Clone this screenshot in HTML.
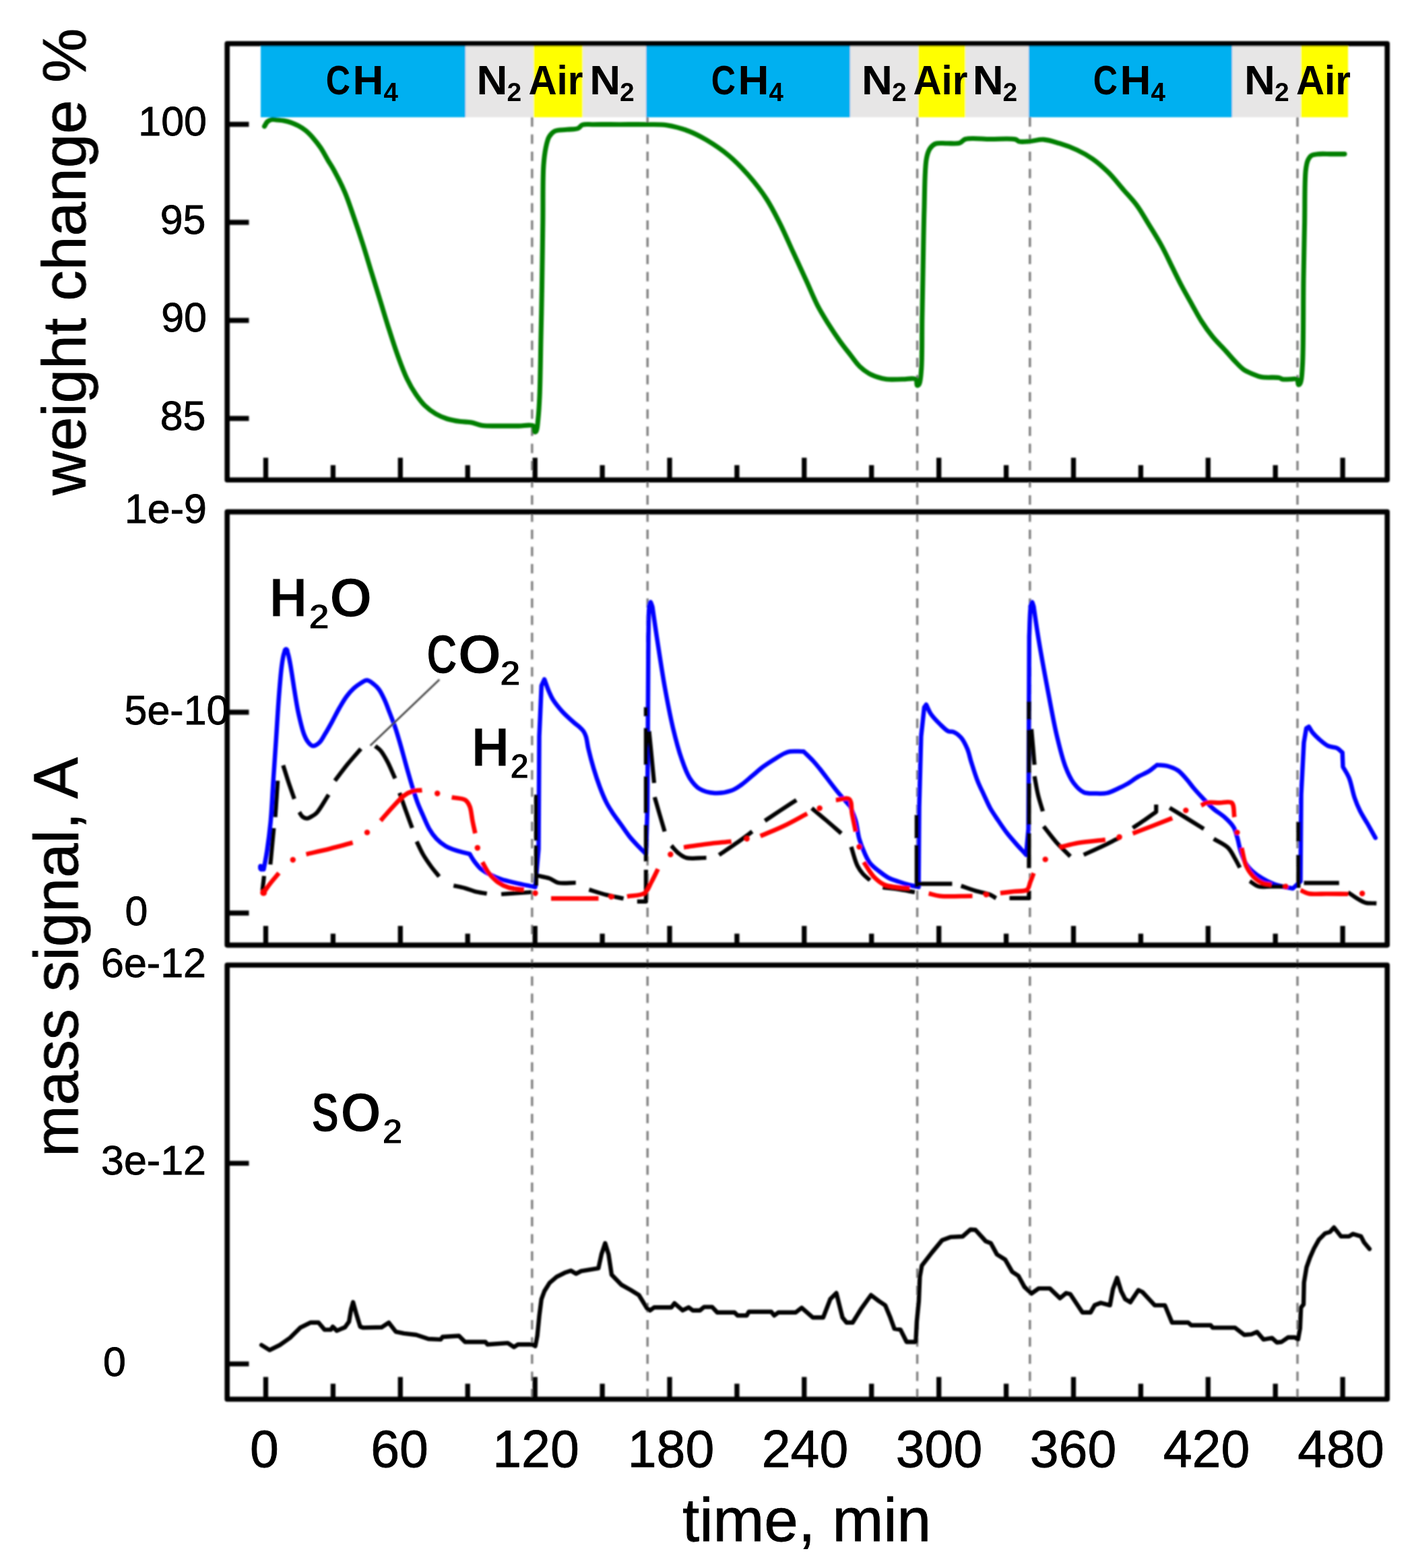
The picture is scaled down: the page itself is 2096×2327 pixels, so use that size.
<!DOCTYPE html>
<html lang="en"><head><meta charset="utf-8"><title>TGA-MS cycling: weight change and mass signal vs time</title>
<style>html,body{margin:0;padding:0;background:#fff}svg{display:block}text{font-family:"Liberation Sans",sans-serif;fill:#000}.b{font-weight:bold}</style>
</head><body>
<svg width="2096" height="2327" viewBox="0 0 2096 2327">
<rect width="2096" height="2327" fill="#fff"/>
<defs><filter id="soft" x="0" y="0" width="2096" height="2327" filterUnits="userSpaceOnUse"><feGaussianBlur stdDeviation="1.0"/></filter><filter id="softt" x="0" y="0" width="2096" height="2327" filterUnits="userSpaceOnUse"><feGaussianBlur stdDeviation="0.7"/></filter></defs>
<g filter="url(#soft)">
<g shape-rendering="crispEdges">
<rect x="387.2" y="68.3" width="303.6" height="106.0" fill="#00b0f0"/>
<rect x="690.8" y="68.3" width="101.2" height="106.0" fill="#e7e6e6"/>
<rect x="792.0" y="68.3" width="73.2" height="106.0" fill="#ffff00"/>
<rect x="865.2" y="68.3" width="93.6" height="106.0" fill="#e7e6e6"/>
<rect x="958.8" y="68.3" width="303.4" height="106.0" fill="#00b0f0"/>
<rect x="1262.2" y="68.3" width="100.8" height="106.0" fill="#e7e6e6"/>
<rect x="1363.0" y="68.3" width="69.7" height="106.0" fill="#ffff00"/>
<rect x="1432.7" y="68.3" width="94.1" height="106.0" fill="#e7e6e6"/>
<rect x="1526.8" y="68.3" width="302.5" height="106.0" fill="#00b0f0"/>
<rect x="1829.3" y="68.3" width="101.7" height="106.0" fill="#e7e6e6"/>
<rect x="1931.0" y="68.3" width="69.8" height="106.0" fill="#ffff00"/>
</g>
<g stroke="#808080" stroke-width="3.4" stroke-dasharray="14 11.5" fill="none">
<line x1="789.8" y1="174" x2="789.8" y2="2076"/>
<line x1="961.2" y1="174" x2="961.2" y2="2076"/>
<line x1="1361.6" y1="174" x2="1361.6" y2="2076"/>
<line x1="1528.8" y1="174" x2="1528.8" y2="2076"/>
<line x1="1926.0" y1="174" x2="1926.0" y2="2076"/>
</g>
<path d="M392.5,187.5 C394.0,185.2 395.1,182.2 397.0,180.5 C398.8,178.9 401.0,177.9 403.3,177.4 C405.9,176.9 409.1,177.7 412.0,178.0 C415.0,178.3 417.8,178.4 420.9,179.0 C424.4,179.6 428.3,180.5 431.9,181.8 C435.6,183.1 439.3,184.8 442.9,186.7 C446.6,188.7 450.3,191.0 453.8,193.8 C457.6,196.9 461.3,200.8 464.8,204.8 C468.6,209.1 472.3,213.9 475.8,219.1 C479.7,224.8 483.3,232.0 486.8,237.8 C489.8,242.9 492.2,246.2 495.4,252.0 C500.2,260.7 507.0,273.8 511.9,285.3 C516.9,297.0 520.7,309.1 525.0,321.5 C529.5,334.4 533.9,347.5 538.2,361.0 C542.7,375.0 547.0,389.7 551.4,404.0 C555.8,418.3 560.2,432.5 564.6,446.8 C569.0,461.1 573.3,475.7 577.8,489.7 C582.1,503.2 586.4,516.7 591.0,529.2 C595.2,540.8 599.4,552.3 604.2,562.2 C608.3,570.7 612.7,578.4 617.4,585.3 C621.6,591.4 625.5,597.0 630.5,601.8 C635.4,606.6 641.3,611.0 647.0,614.3 C652.3,617.4 657.6,619.7 663.5,621.5 C669.7,623.5 677.0,624.6 683.3,625.5 C689.0,626.3 694.3,626.0 699.8,627.0 C705.3,628.0 710.2,630.6 716.3,631.5 C723.4,632.5 731.6,632.0 740.0,632.1 C749.4,632.2 760.8,632.1 770.0,632.1 C777.8,632.1 788.1,629.3 791.5,632.1 C793.7,633.9 792.3,640.4 793.5,641.0 C794.2,641.4 795.3,640.9 796.0,640.0 C797.8,637.7 798.0,628.6 798.8,621.5 C799.8,612.1 800.4,602.2 801.0,588.6 C802.0,566.2 802.4,528.4 803.0,500.0 C803.6,473.6 804.1,450.4 804.5,423.7 C805.0,394.1 805.4,360.4 805.8,330.0 C806.2,301.2 805.5,265.8 806.9,245.7 C807.7,234.4 808.6,227.0 810.2,219.3 C811.5,213.1 812.6,207.2 815.2,202.9 C817.3,199.3 819.7,196.4 823.4,194.6 C828.0,192.3 835.6,193.0 841.5,192.3 C847.1,191.6 853.9,192.2 858.0,190.5 C860.9,189.3 861.7,186.3 864.6,185.2 C868.5,183.8 873.7,184.8 880.0,184.7 C890.2,184.5 906.7,184.7 920.0,184.7 C933.4,184.7 947.9,184.5 960.2,184.7 C970.7,184.9 979.5,184.2 989.5,185.7 C1000.2,187.3 1012.2,190.7 1022.4,194.6 C1031.9,198.2 1039.7,202.4 1048.8,207.8 C1059.4,214.1 1071.5,222.2 1081.8,230.9 C1092.3,239.7 1102.1,249.9 1111.4,260.5 C1120.8,271.3 1130.0,283.2 1137.8,295.2 C1145.4,306.9 1151.2,318.7 1157.6,331.4 C1164.4,345.0 1170.8,360.0 1177.4,374.3 C1184.0,388.6 1190.8,403.4 1197.1,417.1 C1202.9,429.7 1207.8,442.2 1213.6,453.4 C1218.8,463.5 1224.5,472.4 1230.1,481.4 C1235.5,490.0 1241.0,498.2 1246.6,506.1 C1252.0,513.6 1257.9,520.9 1263.1,527.6 C1267.7,533.5 1271.6,539.4 1276.3,544.0 C1280.5,548.0 1284.9,551.4 1289.5,554.0 C1293.7,556.5 1298.2,558.1 1302.6,559.6 C1306.9,561.0 1310.7,562.2 1315.8,562.8 C1322.6,563.6 1332.4,562.8 1340.0,562.8 C1346.9,562.8 1356.3,560.2 1359.5,562.8 C1361.7,564.6 1360.2,571.5 1361.5,572.0 C1362.3,572.3 1363.7,571.3 1364.5,570.0 C1366.5,566.8 1366.9,558.2 1367.6,549.0 C1369.0,531.6 1368.4,499.1 1368.8,473.2 C1369.3,446.1 1369.8,417.3 1370.3,390.0 C1370.8,363.5 1371.1,337.5 1371.9,311.6 C1372.7,286.1 1372.4,251.2 1375.2,235.8 C1376.5,228.8 1377.6,224.9 1380.1,221.0 C1382.2,217.7 1384.8,214.9 1388.4,213.4 C1392.7,211.6 1399.2,212.9 1405.0,212.7 C1411.3,212.5 1419.6,213.8 1424.6,212.2 C1428.2,211.0 1428.9,207.7 1432.9,206.5 C1440.6,204.1 1457.6,206.4 1470.0,206.5 C1482.3,206.6 1499.8,205.1 1507.0,206.8 C1510.2,207.6 1510.8,209.5 1513.6,210.1 C1517.7,211.0 1524.0,209.9 1529.6,209.5 C1535.8,209.0 1542.5,206.7 1549.3,207.1 C1556.7,207.5 1564.5,210.3 1572.4,212.7 C1581.0,215.3 1590.4,218.7 1598.8,222.6 C1606.9,226.4 1614.4,230.5 1621.9,235.8 C1629.9,241.4 1637.6,248.2 1645.0,255.6 C1653.0,263.5 1660.6,273.5 1668.0,282.0 C1674.9,289.9 1681.8,296.9 1687.8,305.1 C1693.9,313.4 1698.6,322.1 1704.3,331.4 C1710.6,341.7 1718.0,353.3 1724.1,364.4 C1730.1,375.3 1735.4,387.0 1740.6,397.4 C1745.2,406.7 1749.0,414.7 1753.7,423.7 C1758.8,433.4 1765.0,444.1 1770.2,453.4 C1774.8,461.6 1778.5,468.9 1783.4,476.5 C1788.4,484.3 1793.9,492.2 1799.9,499.6 C1806.0,507.1 1813.8,514.5 1819.7,521.0 C1824.6,526.4 1828.4,531.1 1832.9,535.8 C1837.2,540.3 1841.4,545.1 1846.0,548.4 C1850.2,551.4 1854.7,553.1 1859.2,555.0 C1863.5,556.8 1867.2,558.6 1872.4,559.6 C1879.6,561.0 1893.6,559.4 1898.8,560.6 C1901.2,561.2 1901.7,562.4 1903.7,562.8 C1906.6,563.4 1911.3,562.8 1915.0,562.8 C1918.5,562.8 1923.1,561.2 1925.2,562.8 C1927.1,564.2 1926.4,570.7 1927.5,571.0 C1928.3,571.2 1929.7,569.7 1930.5,568.0 C1932.5,563.8 1932.7,554.2 1933.4,542.4 C1935.1,516.0 1934.4,452.1 1935.0,413.8 C1935.5,382.9 1936.0,357.4 1936.6,330.0 C1937.1,303.6 1936.4,268.0 1938.3,252.3 C1939.1,245.4 1939.8,241.3 1941.6,237.5 C1942.9,234.7 1944.2,232.4 1946.6,230.9 C1949.4,229.1 1953.9,229.0 1958.1,228.6 C1963.2,228.1 1969.1,228.6 1975.0,228.6 C1981.6,228.6 1989.0,228.6 1996.0,228.6" fill="none" stroke="#007f00" stroke-width="7.1" stroke-linejoin="round" stroke-linecap="round"/>
<path d="M386.5,1285.5 L391.5,1290.0 C393.1,1280.8 394.9,1272.6 396.4,1262.5 C398.3,1250.1 400.1,1236.2 401.6,1220.9 C403.4,1202.2 404.3,1179.4 405.7,1158.6 C407.1,1137.8 408.5,1117.0 409.9,1096.2 C411.3,1075.4 412.5,1053.1 414.0,1033.9 C415.3,1017.5 416.6,1000.0 418.2,988.2 C419.2,980.7 420.1,974.5 421.5,970.0 C422.4,967.2 423.6,963.5 424.6,963.5 C425.6,963.5 426.6,967.4 427.5,970.0 C428.7,973.7 429.5,978.1 430.6,984.0 C432.5,993.8 434.8,1010.7 436.9,1023.5 C438.9,1035.6 440.6,1047.4 443.1,1058.8 C445.5,1069.6 448.4,1082.3 451.4,1090.0 C453.3,1094.9 455.0,1098.5 457.5,1101.5 C459.5,1103.9 461.8,1106.8 464.4,1107.0 C467.3,1107.3 471.4,1104.4 474.2,1101.8 C477.4,1098.9 479.4,1094.3 482.2,1089.8 C485.6,1084.3 489.4,1077.5 492.9,1071.1 C496.5,1064.5 499.9,1057.4 503.6,1051.0 C507.1,1045.0 510.5,1038.8 514.3,1033.7 C517.7,1029.2 521.3,1025.1 525.0,1021.7 C528.4,1018.6 532.1,1015.8 535.7,1013.7 C538.8,1011.9 541.9,1009.4 545.0,1009.6 C548.2,1009.8 551.5,1012.8 554.4,1015.0 C557.3,1017.2 559.9,1019.7 562.4,1023.0 C565.4,1027.0 567.9,1032.3 570.4,1037.7 C573.3,1043.8 575.8,1050.9 578.4,1057.7 C581.1,1064.7 584.0,1071.9 586.5,1079.1 C588.9,1086.2 590.9,1093.1 593.1,1100.5 C595.4,1108.3 597.6,1116.5 599.8,1124.5 C602.0,1132.5 604.2,1140.7 606.5,1148.6 C608.7,1156.3 610.9,1164.0 613.2,1171.3 C615.4,1178.2 617.4,1184.9 619.9,1191.4 C622.3,1197.8 625.1,1203.7 627.9,1210.0 C630.8,1216.6 633.7,1224.1 637.2,1230.1 C640.4,1235.6 643.8,1240.5 647.9,1244.8 C651.9,1249.0 656.4,1252.6 661.3,1255.5 C666.2,1258.4 671.6,1260.3 677.3,1262.2 C683.5,1264.3 690.6,1265.7 697.3,1267.5 C699.5,1271.1 701.3,1274.6 704.0,1278.2 C707.0,1282.2 710.6,1286.9 714.7,1290.2 C718.7,1293.5 723.3,1295.8 728.1,1298.2 C733.1,1300.7 738.3,1303.0 744.1,1304.9 C750.6,1307.1 757.8,1308.5 765.5,1310.3 C774.4,1312.4 784.8,1314.4 794.5,1316.5 L799.5,1260.0 L800.5,1092.8 L803.8,1017.6 L808.1,1008.2 C810.5,1014.5 812.8,1021.6 815.2,1027.0 C817.1,1031.3 818.3,1034.3 820.8,1038.3 C824.1,1043.5 829.0,1049.7 834.0,1055.2 C839.5,1061.3 847.9,1068.7 852.8,1073.0 C855.8,1075.6 858.0,1076.9 860.3,1079.0 C862.4,1080.9 864.4,1082.7 866.0,1085.0 C867.6,1087.3 868.6,1089.6 869.7,1092.8 C871.3,1097.6 871.9,1104.7 873.5,1111.6 C875.5,1120.1 878.2,1130.4 881.0,1139.8 C883.8,1149.2 887.1,1159.2 890.4,1168.0 C893.4,1176.0 896.7,1184.0 900.0,1190.6 C902.7,1196.0 905.1,1199.7 908.3,1204.7 C912.1,1210.6 917.2,1217.2 921.6,1223.4 C926.1,1229.6 930.4,1236.4 935.0,1242.1 C939.3,1247.4 944.2,1252.3 948.4,1256.8 C952.1,1260.7 955.5,1263.9 959.0,1267.5 L961.0,1200.0 L962.5,944.0 C962.9,929.3 962.6,908.1 963.8,900.0 C964.3,896.8 964.9,893.5 965.6,893.5 C966.4,893.5 967.5,898.5 968.5,901.0 C970.6,915.4 972.3,927.9 974.8,944.3 C978.1,965.7 982.4,994.9 986.6,1018.5 C990.5,1040.1 994.5,1061.5 999.0,1080.4 C1002.9,1096.6 1006.8,1111.8 1011.4,1125.0 C1015.2,1136.0 1018.7,1146.7 1023.8,1154.7 C1028.0,1161.3 1032.5,1167.1 1038.6,1170.8 C1044.8,1174.6 1053.2,1176.5 1060.9,1177.0 C1068.9,1177.5 1078.6,1175.8 1085.6,1173.3 C1091.5,1171.2 1095.7,1168.0 1100.7,1164.5 C1106.1,1160.7 1111.4,1155.7 1116.7,1151.3 C1122.0,1146.9 1127.2,1142.0 1132.7,1137.9 C1138.0,1134.0 1143.4,1130.6 1148.8,1127.2 C1154.1,1123.9 1160.3,1119.9 1164.8,1117.9 C1167.8,1116.5 1169.5,1115.7 1172.8,1115.2 C1177.9,1114.4 1186.2,1115.2 1192.9,1115.2 C1197.8,1120.1 1203.4,1125.3 1207.6,1129.9 C1211.1,1133.7 1212.9,1136.0 1216.7,1140.6 C1223.3,1148.8 1235.1,1165.2 1243.4,1175.3 C1250.1,1183.4 1255.9,1189.6 1262.2,1196.7 C1264.9,1203.8 1268.0,1210.5 1270.2,1218.1 C1272.6,1226.4 1273.1,1236.5 1275.5,1244.8 C1277.7,1252.4 1280.6,1259.8 1283.5,1266.2 C1286.0,1271.7 1288.0,1276.5 1291.5,1280.9 C1295.1,1285.4 1300.3,1289.3 1304.9,1292.9 C1309.3,1296.4 1313.5,1299.7 1318.3,1302.3 C1323.2,1304.9 1328.9,1306.6 1334.3,1308.5 C1339.6,1310.4 1345.2,1312.1 1350.3,1313.5 C1354.9,1314.7 1359.2,1315.5 1363.6,1316.5 L1364.5,1198.0 L1367.3,1092.8 L1372.0,1049.6 L1374.9,1045.8 C1377.1,1050.2 1378.5,1054.7 1381.4,1059.0 C1384.8,1064.1 1390.0,1069.5 1394.6,1074.0 C1398.9,1078.2 1403.8,1083.5 1407.8,1085.3 C1410.5,1086.5 1412.7,1085.2 1415.3,1086.2 C1418.9,1087.6 1423.3,1091.0 1426.6,1094.7 C1430.4,1099.1 1433.5,1105.7 1436.0,1111.6 C1438.5,1117.6 1439.4,1123.5 1441.6,1130.4 C1444.3,1138.9 1447.6,1150.0 1451.0,1158.6 C1453.9,1166.1 1457.2,1172.5 1460.4,1179.3 C1463.6,1186.1 1466.4,1193.0 1470.0,1199.5 C1473.6,1205.9 1477.9,1211.9 1482.0,1218.0 C1486.1,1224.2 1490.3,1230.4 1494.8,1236.3 C1499.3,1242.1 1504.2,1247.6 1509.0,1253.0 C1513.7,1258.3 1518.5,1263.3 1523.2,1268.5 L1526.6,1230.0 L1527.8,944.3 C1528.5,929.5 1528.6,908.1 1530.0,900.0 C1530.5,896.8 1531.2,893.5 1531.9,893.5 C1532.7,893.5 1533.6,898.5 1534.5,901.0 C1536.9,917.1 1538.8,931.1 1541.8,949.2 C1545.7,972.9 1551.8,1005.6 1556.6,1030.9 C1560.8,1053.0 1564.5,1073.9 1569.0,1092.8 C1572.9,1108.9 1576.6,1124.8 1581.4,1137.3 C1585.1,1147.0 1588.8,1155.4 1593.8,1162.1 C1598.1,1167.8 1603.0,1173.2 1608.6,1175.7 C1613.8,1178.1 1620.2,1177.3 1626.0,1177.5 C1631.8,1177.7 1637.7,1178.1 1643.3,1176.9 C1649.1,1175.7 1654.9,1172.4 1660.1,1170.0 C1664.8,1167.8 1668.8,1166.0 1673.4,1163.3 C1678.6,1160.3 1684.0,1155.8 1689.5,1152.6 C1694.7,1149.6 1700.7,1147.6 1705.5,1144.6 C1709.9,1141.8 1713.5,1138.3 1717.5,1135.2 C1722.4,1135.7 1727.3,1135.4 1732.2,1136.6 C1737.5,1137.9 1743.5,1140.1 1748.3,1143.3 C1753.3,1146.7 1757.5,1152.0 1761.6,1156.6 C1765.5,1161.0 1768.5,1165.5 1772.3,1170.0 C1776.4,1174.9 1781.0,1179.8 1785.7,1184.7 C1790.7,1190.0 1796.2,1195.9 1801.7,1200.7 C1806.9,1205.2 1812.8,1208.2 1817.7,1212.7 C1822.6,1217.1 1827.9,1222.2 1831.1,1227.4 C1833.9,1232.0 1834.7,1236.7 1836.4,1242.1 C1838.4,1248.5 1839.5,1256.7 1841.8,1263.5 C1844.0,1270.0 1846.4,1276.9 1849.8,1282.2 C1852.8,1286.9 1856.5,1290.6 1860.5,1294.2 C1864.5,1297.8 1869.1,1300.8 1873.9,1303.6 C1878.9,1306.6 1884.5,1309.5 1889.9,1311.6 C1894.9,1313.6 1900.0,1314.8 1905.0,1316.0 C1909.8,1317.1 1914.5,1317.7 1919.2,1318.5 L1930.5,1307.9 L1931.5,1178.8 L1935.5,1102.0 L1939.1,1080.8 L1942.9,1078.4 C1944.8,1081.4 1946.2,1084.5 1948.6,1087.4 C1951.3,1090.7 1954.8,1094.1 1958.4,1097.2 C1962.3,1100.6 1966.9,1104.8 1971.5,1107.0 C1975.7,1109.0 1980.8,1108.4 1984.5,1110.2 C1987.8,1111.8 1990.0,1114.6 1992.7,1116.8 L1993.5,1138.0 C1996.5,1143.4 1999.9,1147.9 2002.5,1154.3 C2005.9,1162.5 2007.7,1175.0 2010.7,1183.7 C2013.2,1191.0 2015.6,1196.9 2018.8,1203.3 C2022.1,1210.0 2026.5,1216.4 2030.3,1223.0 C2034.1,1229.7 2037.9,1236.6 2041.7,1243.4" fill="none" stroke="#0000ff" stroke-width="6.5" stroke-linejoin="round" stroke-linecap="round"/>
<g fill="#0000ff">
<circle cx="388.5" cy="1288" r="5.5"/>
<circle cx="424.6" cy="965.5" r="5"/>
<circle cx="965.6" cy="900" r="5.5"/>
<circle cx="1531.9" cy="900" r="5.5"/>
</g>
<g fill="none" stroke="#000" stroke-width="6.2" stroke-linejoin="round" stroke-linecap="butt">
<path d="M389.5,1322.0 L392.0,1300.0"/>
<path d="M401.3,1283.0 L406.4,1229.0"/>
<path d="M408.6,1212.6 L412.2,1158.6"/>
<path d="M420.3,1135.7 C422.9,1143.8 425.3,1151.8 428.0,1160.0 C430.8,1168.4 433.9,1177.1 436.9,1185.6"/>
<path d="M444.2,1205.3 C445.8,1207.5 447.0,1210.4 449.0,1212.0 C450.9,1213.5 453.4,1214.7 455.6,1214.7 C457.8,1214.7 459.8,1213.2 462.0,1212.0 C464.6,1210.6 467.2,1209.4 470.1,1206.4 C475.3,1201.0 481.9,1188.4 487.8,1179.4"/>
<path d="M497.1,1158.6 C503.4,1150.4 509.5,1142.0 516.0,1134.0 C522.4,1126.2 529.1,1118.8 535.7,1111.2"/>
<path d="M557.0,1107.2 C559.7,1109.5 562.4,1111.0 565.0,1114.0 C568.5,1118.0 571.7,1123.9 575.0,1130.0 C578.9,1137.4 582.7,1146.9 586.5,1155.3"/>
<path d="M593.1,1176.7 C596.1,1185.1 598.9,1193.5 602.0,1202.0 C605.2,1210.8 608.5,1219.9 611.8,1228.8"/>
<path d="M618.5,1248.8 C621.7,1255.2 624.4,1261.8 628.0,1268.0 C631.6,1274.2 635.9,1280.4 640.0,1286.0 C643.9,1291.3 647.9,1295.9 651.9,1300.9"/>
<path d="M673.3,1314.3 C678.9,1315.5 684.6,1316.5 690.0,1318.0 C695.2,1319.4 699.7,1321.6 705.0,1323.0 C710.6,1324.5 716.8,1325.2 722.7,1326.3"/>
<path d="M744.1,1327.0 L789.0,1324.0"/>
<path d="M795.8,1179.3 L795.8,1247.5"/>
<path d="M795.8,1254.5 L795.8,1314.7"/>
<path d="M798.3,1299.6 C803.9,1300.9 810.0,1301.6 815.2,1303.4 C820.0,1305.1 823.1,1308.7 828.4,1310.0 C835.5,1311.7 845.9,1310.0 854.7,1310.0"/>
<path d="M874.4,1320.3 C882.9,1322.9 891.4,1325.8 900.0,1328.0 C908.5,1330.2 917.1,1331.7 925.6,1333.5"/>
<path d="M945.8,1337.8 L958.9,1337.8 L958.9,1290.8"/>
<path d="M958.9,1278.4 L958.9,1224.0"/>
<path d="M958.9,1206.6 L958.9,1152.2"/>
<path d="M958.9,1134.9 L958.9,1080.4"/>
<path d="M958.9,1063.0 L958.9,1049.5"/>
<path d="M963.5,1085.0 C964.3,1093.3 965.0,1100.2 966.0,1110.0 C967.4,1124.2 969.3,1144.7 971.0,1162.0"/>
<path d="M971.8,1183.0 C974.2,1191.3 976.6,1199.6 979.0,1208.0 C981.5,1216.6 984.1,1225.3 986.6,1234.0"/>
<path d="M996.5,1255.0 C1000.0,1258.7 1003.2,1263.0 1007.0,1266.0 C1010.6,1268.9 1013.7,1271.6 1018.8,1273.0 C1026.3,1275.0 1038.6,1273.0 1048.5,1273.0"/>
<path d="M1067.3,1268.8 C1075.5,1263.2 1083.8,1257.8 1092.0,1252.0 C1100.3,1246.2 1108.5,1240.1 1116.7,1234.1"/>
<path d="M1135.4,1218.1 C1142.9,1213.1 1150.3,1208.1 1158.0,1203.0 C1165.9,1197.8 1174.1,1192.5 1182.2,1187.3"/>
<path d="M1205.0,1199.4 C1212.0,1205.3 1218.9,1210.9 1226.0,1217.0 C1233.5,1223.4 1241.2,1230.2 1248.8,1236.8"/>
<path d="M1263.5,1256.8 C1266.6,1266.2 1269.2,1277.7 1272.8,1284.9 C1275.3,1290.0 1277.8,1293.4 1281.0,1297.0 C1284.1,1300.5 1288.0,1303.2 1291.5,1306.3"/>
<path d="M1310.3,1317.0 C1318.5,1318.0 1326.9,1318.8 1335.0,1320.0 C1342.8,1321.2 1350.3,1322.7 1358.0,1324.0"/>
<path d="M1360.8,1209.4 L1360.8,1244.0"/>
<path d="M1360.8,1254.0 L1360.8,1316.5"/>
<path d="M1363.0,1311.7 L1413.4,1311.7"/>
<path d="M1426.6,1314.7 C1433.7,1317.1 1440.8,1319.8 1448.0,1322.0 C1455.2,1324.2 1464.5,1325.5 1470.0,1327.8 C1473.7,1329.4 1475.7,1331.3 1478.6,1333.0"/>
<path d="M1498.5,1332.9 L1527.4,1332.9 L1527.4,1322.0"/>
<path d="M1527.4,1288.3 L1527.4,1236.3"/>
<path d="M1527.4,1224.0 L1527.4,1162.0"/>
<path d="M1527.4,1147.2 L1527.4,1082.9"/>
<path d="M1527.4,1068.0 L1527.4,1040.8"/>
<path d="M1531.0,1082.0 C1531.8,1091.3 1532.7,1100.9 1533.5,1110.0 C1534.2,1118.6 1534.9,1126.7 1535.6,1135.0"/>
<path d="M1535.6,1152.0 C1537.4,1161.3 1538.8,1171.1 1541.0,1180.0 C1543.0,1188.4 1545.7,1196.0 1548.0,1204.0"/>
<path d="M1549.2,1226.4 C1555.5,1234.3 1561.4,1242.5 1568.0,1250.0 C1574.6,1257.4 1581.9,1264.0 1588.8,1271.0"/>
<path d="M1608.6,1268.5 C1617.1,1264.7 1625.5,1261.0 1634.0,1257.0 C1642.8,1252.8 1651.7,1248.2 1660.6,1243.8"/>
<path d="M1681.5,1228.8 C1687.3,1224.9 1693.2,1221.0 1699.0,1217.0 C1704.8,1213.0 1710.5,1208.8 1716.2,1204.7 L1716.2,1194.0"/>
<path d="M1736.2,1198.8 C1744.5,1203.9 1752.6,1208.9 1761.0,1214.0 C1769.6,1219.3 1778.3,1224.7 1787.0,1230.1"/>
<path d="M1801.7,1244.8 C1808.8,1249.3 1817.9,1253.0 1823.1,1258.2 C1827.3,1262.4 1829.2,1267.2 1832.0,1272.0 C1835.0,1277.0 1837.7,1282.4 1840.5,1287.6"/>
<path d="M1855.2,1307.6 C1859.6,1310.3 1863.6,1314.2 1868.5,1315.6 C1873.8,1317.1 1880.0,1315.6 1886.0,1315.6 C1892.4,1315.6 1899.3,1315.6 1905.9,1315.6"/>
<path d="M1927.4,1219.7 L1927.4,1249.0"/>
<path d="M1927.4,1268.7 L1927.4,1317.7"/>
<path d="M1935.5,1310.3 L1987.8,1310.3"/>
<path d="M2000.9,1324.2 C2005.8,1327.5 2010.9,1331.3 2015.6,1334.0 C2019.6,1336.3 2022.7,1338.6 2027.0,1339.7 C2031.8,1341.0 2037.9,1340.3 2043.3,1340.6"/>
</g>
<g fill="none" stroke="#ff0000" stroke-width="6.6" stroke-linejoin="round" stroke-linecap="butt">
<path d="M391.2,1324.8 C394.8,1319.9 398.2,1314.8 402.0,1310.0 C405.8,1305.1 410.0,1300.5 414.0,1295.7"/>
<path d="M454.5,1267.7 C466.3,1265.0 478.4,1262.4 490.0,1259.5 C501.4,1256.7 512.4,1253.5 523.6,1250.5"/>
<path d="M565.0,1218.0 C571.2,1210.9 577.6,1203.2 583.7,1196.7 C589.2,1190.9 594.4,1184.6 599.8,1180.7 C604.2,1177.5 608.5,1175.3 613.1,1174.0 C617.4,1172.7 622.0,1173.1 626.5,1172.6"/>
<path d="M670.6,1183.3 C677.3,1184.6 686.2,1184.3 690.7,1187.3 C694.1,1189.5 695.6,1192.7 697.3,1196.7 C699.6,1202.2 700.0,1211.2 701.4,1218.1 C702.7,1224.6 704.1,1230.6 705.4,1236.8"/>
<path d="M716.0,1279.5 C719.1,1284.9 721.6,1290.7 725.4,1295.6 C729.2,1300.5 733.8,1305.4 738.8,1309.0 C743.6,1312.5 748.8,1315.1 754.8,1317.0 C761.6,1319.1 770.0,1319.2 777.6,1320.3"/>
<path d="M818.0,1333.4 L888.5,1333.4"/>
<path d="M930.9,1330.4 C939.6,1328.7 950.8,1329.6 956.9,1325.4 C962.1,1321.8 963.8,1314.8 967.0,1309.0 C970.4,1302.9 973.5,1296.1 976.7,1289.6"/>
<path d="M1015.0,1257.4 C1026.7,1255.8 1038.3,1253.9 1050.0,1252.5 C1061.8,1251.0 1073.7,1250.0 1085.6,1248.7"/>
<path d="M1128.7,1240.8 C1140.1,1235.9 1151.6,1231.5 1163.0,1226.0 C1174.8,1220.4 1186.5,1213.6 1198.2,1207.4"/>
<path d="M1240.8,1187.3 C1247.5,1186.9 1256.8,1182.9 1260.8,1186.0 C1265.0,1189.3 1263.3,1199.9 1264.8,1207.4 C1266.4,1215.8 1268.4,1225.2 1270.2,1234.1"/>
<path d="M1282.2,1279.5 C1287.1,1286.6 1291.4,1295.1 1296.9,1300.9 C1301.8,1306.0 1307.2,1310.4 1312.9,1313.0 C1318.3,1315.4 1324.0,1315.6 1330.0,1316.5 C1336.5,1317.4 1343.5,1317.7 1350.3,1318.3"/>
<path d="M1378.6,1326.0 C1384.1,1327.2 1388.0,1328.9 1395.0,1329.7 C1406.8,1331.0 1427.3,1329.7 1443.5,1329.7"/>
<path d="M1484.9,1325.4 C1491.6,1324.6 1498.4,1323.8 1505.0,1323.0 C1511.6,1322.2 1520.5,1323.5 1524.5,1320.5 C1527.7,1318.1 1527.8,1313.0 1529.4,1309.0 C1531.1,1304.7 1532.7,1300.1 1534.4,1295.7"/>
<path d="M1572.7,1257.4 C1581.8,1255.3 1589.9,1252.8 1600.0,1251.0 C1612.2,1248.9 1627.2,1247.8 1640.8,1246.2"/>
<path d="M1681.5,1236.8 C1691.0,1233.2 1700.4,1229.7 1710.0,1226.0 C1719.9,1222.2 1730.1,1218.1 1740.2,1214.1"/>
<path d="M1783.0,1195.4 C1785.7,1194.1 1787.7,1192.2 1791.0,1191.4 C1795.9,1190.2 1803.7,1191.4 1810.0,1191.4 C1816.2,1191.4 1824.6,1188.3 1828.4,1191.4 C1832.5,1194.8 1831.1,1205.6 1832.4,1212.7"/>
<path d="M1843.1,1258.2 C1845.3,1267.1 1846.5,1277.4 1849.8,1284.9 C1852.6,1291.2 1856.3,1296.6 1860.5,1300.9 C1864.4,1304.9 1869.2,1308.3 1873.9,1310.3 C1878.2,1312.1 1882.8,1312.1 1887.2,1313.0"/>
<path d="M1930.6,1321.0 C1934.4,1322.6 1937.2,1324.9 1942.0,1325.9 C1949.2,1327.5 1960.4,1326.4 1970.0,1326.5 C1980.0,1326.6 1990.6,1326.6 2000.9,1326.7"/>
</g>
<g fill="#ff0000">
<circle cx="434.8" cy="1276" r="4.2"/>
<circle cx="545" cy="1235.4" r="4.2"/>
<circle cx="649.2" cy="1177.5" r="4.2"/>
<circle cx="708.8" cy="1258.2" r="4.2"/>
<circle cx="794.5" cy="1325.5" r="4.2"/>
<circle cx="907.4" cy="1330.8" r="4.2"/>
<circle cx="995.3" cy="1268" r="4.2"/>
<circle cx="1108.7" cy="1244.8" r="4.2"/>
<circle cx="1216.7" cy="1199.4" r="4.2"/>
<circle cx="1275.5" cy="1256.8" r="4.2"/>
<circle cx="1463.9" cy="1327.6" r="4.2"/>
<circle cx="1551.7" cy="1275.4" r="4.2"/>
<circle cx="1661.6" cy="1242.3" r="4.2"/>
<circle cx="1760.3" cy="1202.6" r="4.2"/>
<circle cx="1836.4" cy="1235.4" r="4.2"/>
<circle cx="1908.6" cy="1315.6" r="4.2"/>
<circle cx="2022.1" cy="1326" r="4.2"/>
<circle cx="391.2" cy="1324.8" r="5"/>
</g>
<path d="M388.1,1996.1 L400.2,2003.6 L415.3,1996.1 L430.4,1985.5 L445.6,1970.4 L460.7,1962.8 L472.8,1962.8 L481.8,1973.4 L490.9,1973.4 L493.9,1968.9 L500.0,1974.9 L512.0,1969.8 L518.1,1961.3 L521.1,1943.2 L524.1,1932.6 L528.7,1949.2 L534.7,1968.9 L539.2,1970.4 L566.4,1969.8 L577.0,1962.8 L587.6,1976.4 L599.7,1978.9 L617.8,1981.0 L635.9,1987.0 L654.1,1987.9 L657.1,1984.0 L681.3,1982.5 L690.3,1991.5 L720.6,1991.5 L723.6,1995.2 L753.8,1993.1 L762.9,1999.1 L768.9,1995.2 L790.1,1995.2 L794.6,1997.6 L797.6,1982.5 L800.6,1952.3 L803.7,1928.1 L808.2,1916.0 L815.8,1903.9 L826.3,1894.8 L838.4,1888.8 L847.5,1885.8 L855.0,1890.3 L862.6,1886.4 L874.7,1884.3 L888.3,1882.1 L892.8,1861.6 L898.3,1845.0 L903.4,1861.6 L907.9,1891.8 L922.7,1906.9 L936.3,1914.5 L948.4,1922.0 L960.4,1941.7 L965.0,1944.7 L971.0,1940.2 L996.7,1940.2 L1001.2,1934.1 L1013.3,1944.7 L1022.4,1940.2 L1028.4,1944.7 L1039.0,1944.7 L1045.1,1939.6 L1057.1,1939.6 L1064.7,1947.7 L1090.4,1947.7 L1094.9,1952.3 L1108.5,1952.3 L1111.5,1946.8 L1144.8,1946.8 L1149.3,1952.3 L1155.4,1947.7 L1181.1,1947.7 L1190.1,1940.8 L1206.7,1955.3 L1221.9,1955.3 L1232.4,1928.1 L1241.5,1919.0 L1246.0,1937.1 L1250.6,1955.3 L1256.6,1962.8 L1265.7,1962.8 L1277.8,1943.2 L1292.9,1922.0 L1305.0,1931.1 L1314.0,1937.1 L1321.6,1955.3 L1327.6,1971.9 L1336.7,1973.4 L1345.8,1991.5 L1359.4,1991.5 L1360.9,1961.3 L1363.9,1931.1 L1365.4,1894.8 L1368.4,1878.2 L1383.5,1858.6 L1398.6,1840.4 L1410.7,1835.9 L1428.9,1835.0 L1440.6,1824.7 L1448.1,1825.3 L1463.2,1842.0 L1470.8,1845.0 L1479.9,1861.6 L1492.0,1869.2 L1502.5,1887.3 L1511.6,1893.3 L1520.7,1909.9 L1531.2,1919.6 L1541.8,1912.1 L1558.4,1912.1 L1573.5,1926.6 L1582.6,1919.0 L1588.7,1920.5 L1606.8,1947.7 L1618.9,1947.7 L1624.9,1937.1 L1634.0,1933.5 L1647.6,1937.1 L1652.1,1913.0 L1658.2,1896.4 L1664.2,1916.0 L1670.3,1928.1 L1677.8,1932.6 L1689.9,1914.5 L1695.9,1917.5 L1714.1,1937.1 L1729.2,1937.1 L1739.8,1962.8 L1763.9,1962.8 L1768.5,1966.8 L1797.2,1966.8 L1800.2,1970.4 L1833.4,1970.4 L1847.0,1981.0 L1857.6,1980.1 L1865.9,1976.7 L1875.6,1987.8 L1888.2,1985.6 L1895.6,1992.3 L1902.3,1991.5 L1911.9,1984.8 L1922.3,1984.8 L1926.8,1987.8 L1929.8,1971.5 L1931.2,1940.3 L1935.0,1935.9 L1935.7,1903.2 L1939.4,1880.9 L1944.6,1866.1 L1950.5,1852.7 L1958.0,1839.4 L1966.9,1830.5 L1974.3,1828.2 L1980.2,1821.6 L1990.6,1834.9 L2002.5,1834.9 L2008.4,1831.2 L2020.3,1834.9 L2024.8,1843.8 L2032.9,1853.5" fill="none" stroke="#000" stroke-width="6.4" stroke-linejoin="round" stroke-linecap="round"/>
<line x1="652.3" y1="1008.5" x2="549.6" y2="1106.5" stroke="#4a4a4a" stroke-width="2.8"/>
<g fill="none" stroke="#000" stroke-width="7.6" stroke-linejoin="round">
<rect x="337.2" y="64.8" width="1722.0" height="647.5"/>
<rect x="337.2" y="759.6" width="1722.0" height="643.0"/>
<rect x="337.2" y="1432.3" width="1722.0" height="644.2"/>
</g>
<g stroke="#000" stroke-width="7.3" fill="none">
<line x1="394.5" y1="712.3" x2="394.5" y2="679.3"/>
<line x1="494.4" y1="712.3" x2="494.4" y2="690.3"/>
<line x1="594.3" y1="712.3" x2="594.3" y2="679.3"/>
<line x1="694.2" y1="712.3" x2="694.2" y2="690.3"/>
<line x1="794.2" y1="712.3" x2="794.2" y2="679.3"/>
<line x1="894.1" y1="712.3" x2="894.1" y2="690.3"/>
<line x1="994.0" y1="712.3" x2="994.0" y2="679.3"/>
<line x1="1093.9" y1="712.3" x2="1093.9" y2="690.3"/>
<line x1="1193.8" y1="712.3" x2="1193.8" y2="679.3"/>
<line x1="1293.7" y1="712.3" x2="1293.7" y2="690.3"/>
<line x1="1393.7" y1="712.3" x2="1393.7" y2="679.3"/>
<line x1="1493.6" y1="712.3" x2="1493.6" y2="690.3"/>
<line x1="1593.5" y1="712.3" x2="1593.5" y2="679.3"/>
<line x1="1693.4" y1="712.3" x2="1693.4" y2="690.3"/>
<line x1="1793.3" y1="712.3" x2="1793.3" y2="679.3"/>
<line x1="1893.2" y1="712.3" x2="1893.2" y2="690.3"/>
<line x1="1993.1" y1="712.3" x2="1993.1" y2="679.3"/>
<line x1="394.5" y1="1402.6" x2="394.5" y2="1374.1"/>
<line x1="494.4" y1="1402.6" x2="494.4" y2="1385.6"/>
<line x1="594.3" y1="1402.6" x2="594.3" y2="1374.1"/>
<line x1="694.2" y1="1402.6" x2="694.2" y2="1385.6"/>
<line x1="794.2" y1="1402.6" x2="794.2" y2="1374.1"/>
<line x1="894.1" y1="1402.6" x2="894.1" y2="1385.6"/>
<line x1="994.0" y1="1402.6" x2="994.0" y2="1374.1"/>
<line x1="1093.9" y1="1402.6" x2="1093.9" y2="1385.6"/>
<line x1="1193.8" y1="1402.6" x2="1193.8" y2="1374.1"/>
<line x1="1293.7" y1="1402.6" x2="1293.7" y2="1385.6"/>
<line x1="1393.7" y1="1402.6" x2="1393.7" y2="1374.1"/>
<line x1="1493.6" y1="1402.6" x2="1493.6" y2="1385.6"/>
<line x1="1593.5" y1="1402.6" x2="1593.5" y2="1374.1"/>
<line x1="1693.4" y1="1402.6" x2="1693.4" y2="1385.6"/>
<line x1="1793.3" y1="1402.6" x2="1793.3" y2="1374.1"/>
<line x1="1893.2" y1="1402.6" x2="1893.2" y2="1385.6"/>
<line x1="1993.1" y1="1402.6" x2="1993.1" y2="1374.1"/>
<line x1="394.5" y1="2076.5" x2="394.5" y2="2043.5"/>
<line x1="494.4" y1="2076.5" x2="494.4" y2="2053.5"/>
<line x1="594.3" y1="2076.5" x2="594.3" y2="2043.5"/>
<line x1="694.2" y1="2076.5" x2="694.2" y2="2053.5"/>
<line x1="794.2" y1="2076.5" x2="794.2" y2="2043.5"/>
<line x1="894.1" y1="2076.5" x2="894.1" y2="2053.5"/>
<line x1="994.0" y1="2076.5" x2="994.0" y2="2043.5"/>
<line x1="1093.9" y1="2076.5" x2="1093.9" y2="2053.5"/>
<line x1="1193.8" y1="2076.5" x2="1193.8" y2="2043.5"/>
<line x1="1293.7" y1="2076.5" x2="1293.7" y2="2053.5"/>
<line x1="1393.7" y1="2076.5" x2="1393.7" y2="2043.5"/>
<line x1="1493.6" y1="2076.5" x2="1493.6" y2="2053.5"/>
<line x1="1593.5" y1="2076.5" x2="1593.5" y2="2043.5"/>
<line x1="1693.4" y1="2076.5" x2="1693.4" y2="2053.5"/>
<line x1="1793.3" y1="2076.5" x2="1793.3" y2="2043.5"/>
<line x1="1893.2" y1="2076.5" x2="1893.2" y2="2053.5"/>
<line x1="1993.1" y1="2076.5" x2="1993.1" y2="2043.5"/>
<line x1="337.2" y1="184.5" x2="369.5" y2="184.5"/>
<line x1="337.2" y1="330" x2="369.5" y2="330"/>
<line x1="337.2" y1="475.5" x2="369.5" y2="475.5"/>
<line x1="337.2" y1="621" x2="369.5" y2="621"/>
<line x1="337.2" y1="1057" x2="369.5" y2="1057"/>
<line x1="337.2" y1="1355" x2="369.5" y2="1355"/>
<line x1="337.2" y1="1726.4" x2="369.5" y2="1726.4"/>
<line x1="337.2" y1="2024.2" x2="369.5" y2="2024.2"/>
</g>
</g>
<g filter="url(#softt)">
<text x="307" y="201" font-size="61" text-anchor="end" stroke="#000" stroke-width="0.8">100</text>
<text x="305.5" y="346.5" font-size="61" text-anchor="end" stroke="#000" stroke-width="0.8">95</text>
<text x="307" y="492" font-size="61" text-anchor="end" stroke="#000" stroke-width="0.8">90</text>
<text x="305.5" y="638" font-size="61" text-anchor="end" stroke="#000" stroke-width="0.8">85</text>
<text x="307" y="776" font-size="61" text-anchor="end" stroke="#000" stroke-width="0.8">1e-9</text>
<text x="340.5" y="1075" font-size="61" text-anchor="end" stroke="#000" stroke-width="0.8">5e-10</text>
<text x="219.5" y="1372.5" font-size="61" text-anchor="end" stroke="#000" stroke-width="0.8">0</text>
<text x="306" y="1449.5" font-size="61" text-anchor="end" stroke="#000" stroke-width="0.8">6e-12</text>
<text x="306" y="1743" font-size="61" text-anchor="end" stroke="#000" stroke-width="0.8">3e-12</text>
<text x="187" y="2042" font-size="61" text-anchor="end" stroke="#000" stroke-width="0.8">0</text>
<text x="392.5" y="2176.5" font-size="77" text-anchor="middle" stroke="#000" stroke-width="0.8">0</text>
<text x="593" y="2176.5" font-size="77" text-anchor="middle" stroke="#000" stroke-width="0.8">60</text>
<text x="795.5" y="2176.5" font-size="77" text-anchor="middle" stroke="#000" stroke-width="0.8">120</text>
<text x="996" y="2176.5" font-size="77" text-anchor="middle" stroke="#000" stroke-width="0.8">180</text>
<text x="1195" y="2176.5" font-size="77" text-anchor="middle" stroke="#000" stroke-width="0.8">240</text>
<text x="1394" y="2176.5" font-size="77" text-anchor="middle" stroke="#000" stroke-width="0.8">300</text>
<text x="1593" y="2176.5" font-size="77" text-anchor="middle" stroke="#000" stroke-width="0.8">360</text>
<text x="1791" y="2176.5" font-size="77" text-anchor="middle" stroke="#000" stroke-width="0.8">420</text>
<text x="1990.5" y="2176.5" font-size="77" text-anchor="middle" stroke="#000" stroke-width="0.8">480</text>
<text x="1013" y="2286.5" font-size="91" text-anchor="start" stroke="#000" stroke-width="0.8">time, min</text>
<text transform="translate(126.6,735) rotate(-90)" font-size="91" stroke="#000" stroke-width="0.8">weight change %</text>
<text transform="translate(115.4,1717) rotate(-90)" font-size="92" stroke="#000" stroke-width="0.8">mass signal, A</text>
<text class="b" y="140.2" font-size="61.5"><tspan x="483.7" textLength="36.2" lengthAdjust="spacingAndGlyphs">C</tspan><tspan x="523.5" textLength="46.0" lengthAdjust="spacingAndGlyphs">H</tspan><tspan x="569.6" textLength="21.4" lengthAdjust="spacingAndGlyphs" dy="9.8" font-size="38.5">4</tspan></text>
<text class="b" y="140.2" font-size="61.5"><tspan x="707.6" textLength="45.9" lengthAdjust="spacingAndGlyphs">N</tspan><tspan x="752.5" textLength="21.7" lengthAdjust="spacingAndGlyphs" dy="9.8" font-size="38.5">2</tspan></text>
<text class="b" y="140.2" font-size="61.5"><tspan x="784.5" textLength="81.0" lengthAdjust="spacingAndGlyphs">Air</tspan></text>
<text class="b" y="140.2" font-size="61.5"><tspan x="875.2" textLength="45.9" lengthAdjust="spacingAndGlyphs">N</tspan><tspan x="920.1" textLength="21.7" lengthAdjust="spacingAndGlyphs" dy="9.8" font-size="38.5">2</tspan></text>
<text class="b" y="140.2" font-size="61.5"><tspan x="1055.7" textLength="36.2" lengthAdjust="spacingAndGlyphs">C</tspan><tspan x="1095.5" textLength="46.0" lengthAdjust="spacingAndGlyphs">H</tspan><tspan x="1141.6" textLength="21.4" lengthAdjust="spacingAndGlyphs" dy="9.8" font-size="38.5">4</tspan></text>
<text class="b" y="140.2" font-size="61.5"><tspan x="1279.1" textLength="45.9" lengthAdjust="spacingAndGlyphs">N</tspan><tspan x="1324.0" textLength="21.7" lengthAdjust="spacingAndGlyphs" dy="9.8" font-size="38.5">2</tspan></text>
<text class="b" y="140.2" font-size="61.5"><tspan x="1355.5" textLength="81.0" lengthAdjust="spacingAndGlyphs">Air</tspan></text>
<text class="b" y="140.2" font-size="61.5"><tspan x="1443.7" textLength="45.9" lengthAdjust="spacingAndGlyphs">N</tspan><tspan x="1488.6" textLength="21.7" lengthAdjust="spacingAndGlyphs" dy="9.8" font-size="38.5">2</tspan></text>
<text class="b" y="140.2" font-size="61.5"><tspan x="1622.7" textLength="36.2" lengthAdjust="spacingAndGlyphs">C</tspan><tspan x="1662.5" textLength="46.0" lengthAdjust="spacingAndGlyphs">H</tspan><tspan x="1708.6" textLength="21.4" lengthAdjust="spacingAndGlyphs" dy="9.8" font-size="38.5">4</tspan></text>
<text class="b" y="140.2" font-size="61.5"><tspan x="1847.1" textLength="45.9" lengthAdjust="spacingAndGlyphs">N</tspan><tspan x="1892.0" textLength="21.7" lengthAdjust="spacingAndGlyphs" dy="9.8" font-size="38.5">2</tspan></text>
<text class="b" y="140.2" font-size="61.5"><tspan x="1924.0" textLength="81.0" lengthAdjust="spacingAndGlyphs">Air</tspan></text>
<text class="b" y="914.5" font-size="82" stroke="#fff" stroke-width="1.2"><tspan x="399.4" textLength="56.9" lengthAdjust="spacingAndGlyphs">H</tspan><tspan x="458.2" textLength="30.9" lengthAdjust="spacingAndGlyphs" dy="18" font-size="52">2</tspan><tspan x="489.1" textLength="63.5" lengthAdjust="spacingAndGlyphs" dy="-18">O</tspan></text>
<text class="b" y="998.7" font-size="82" stroke="#fff" stroke-width="1.2"><tspan x="632.9" textLength="46.0" lengthAdjust="spacingAndGlyphs">C</tspan><tspan x="679.4" textLength="64.8" lengthAdjust="spacingAndGlyphs">O</tspan><tspan x="742.1" textLength="30.9" lengthAdjust="spacingAndGlyphs" dy="18" font-size="52">2</tspan></text>
<text class="b" y="1137.2" font-size="82" stroke="#fff" stroke-width="1.2"><tspan x="699.4" textLength="56.9" lengthAdjust="spacingAndGlyphs">H</tspan><tspan x="757.2" textLength="28.1" lengthAdjust="spacingAndGlyphs" dy="18" font-size="52">2</tspan></text>
<text class="b" y="1679.2" font-size="82" stroke="#fff" stroke-width="1.2"><tspan x="462.2" textLength="41.1" lengthAdjust="spacingAndGlyphs">S</tspan><tspan x="505.3" textLength="60.7" lengthAdjust="spacingAndGlyphs">O</tspan><tspan x="567.6" textLength="30.3" lengthAdjust="spacingAndGlyphs" dy="18" font-size="52">2</tspan></text>
</g>
</svg>
</body></html>
